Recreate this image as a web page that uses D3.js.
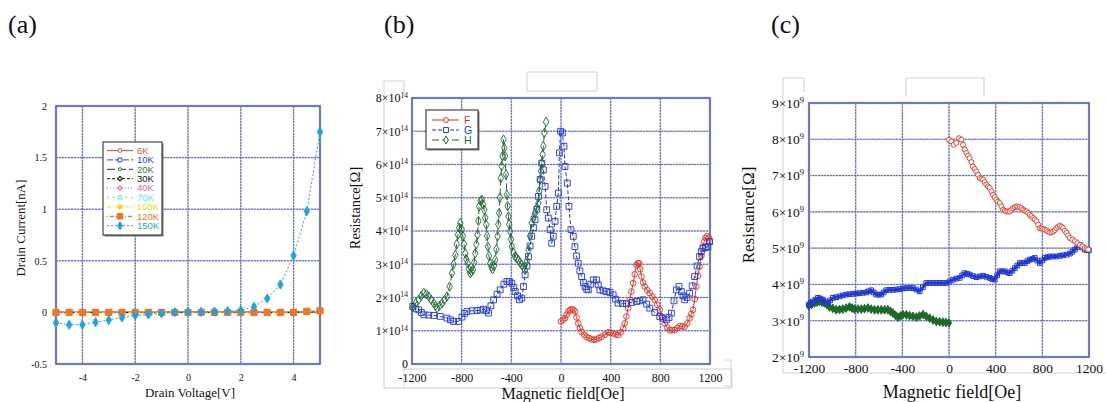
<!DOCTYPE html>
<html>
<head>
<meta charset="utf-8">
<script src="https://cdn.jsdelivr.net/npm/d3@7"></script>
<style>
  body { margin: 0; background: #fff; }
  svg { display: block; }
  text { font-family: "Liberation Serif", "Times New Roman", serif; fill: #111; }
  .leg text { font-family: "Liberation Sans", Arial, sans-serif; }
</style>
</head>
<body>
<svg id="fig" width="1106" height="402"></svg>
<script>
// ---------- (a) drain current vs drain voltage ----------
var voltage = [-5, -4.5, -4, -3.5, -3, -2.5, -2, -1.5, -1, -0.5, 0, 0.5, 1, 1.5, 2, 2.5, 3, 3.5, 4, 4.5, 5];
var tempLabels = ["6K", "10K", "20K", "30K", "40K", "70K", "100K", "120K", "150K"];
var cur6K   = [0, 0, 0, 0, 0, 0, 0, 0, 0, 0, 0, 0, 0, 0, 0, 0, 0, 0, 0, 0.005, 0.01];
var cur10K  = [0, 0, 0, 0, 0, 0, 0, 0, 0, 0, 0, 0, 0, 0, 0, 0, 0, 0, 0, 0.005, 0.01];
var cur20K  = [0, 0, 0, 0, 0, 0, 0, 0, 0, 0, 0, 0, 0, 0, 0, 0, 0, 0, 0, 0.005, 0.01];
var cur30K  = [0, 0, 0, 0, 0, 0, 0, 0, 0, 0, 0, 0, 0, 0, 0, 0, 0, 0, 0, 0.005, 0.01];
var cur40K  = [0, 0, 0, 0, 0, 0, 0, 0, 0, 0, 0, 0, 0, 0, 0, 0, 0, 0, 0, 0.005, 0.01];
var cur70K  = [0, 0, 0, 0, 0, 0, 0, 0, 0, 0, 0, 0, 0, 0, 0, 0, 0, 0, 0, 0.005, 0.01];
var cur100K = [0, 0, 0, 0, 0, 0, 0, 0, 0, 0, 0, 0, 0, 0, 0, 0, 0, 0, 0, 0.008, 0.012];
var cur120K = [0, 0, 0, 0, 0, 0, 0, 0, 0, 0, 0, 0, 0, 0, 0, 0, 0, 0, 0, 0.01, 0.015];
var cur150K = [-0.1, -0.12, -0.12, -0.095, -0.075, -0.05, -0.03, -0.02, -0.01, 0.002, 0.004, 0.005, 0.008, 0.012, 0.02, 0.055, 0.135, 0.27, 0.55, 0.98, 1.75];
var aXTicks = [-4, -2, 0, 2, 4];
var aYTicks = [-0.5, 0, 0.5, 1, 1.5, 2];

// ---------- (b) resistance (x10^14 ohm) vs magnetic field ----------
var bFieldF = [0, 16, 32, 45, 59, 72, 86, 99, 112, 125, 139, 152, 166, 186, 206, 226, 246, 266, 286, 306, 327, 353, 380, 400, 420, 440, 460, 480, 501, 514, 527, 540, 554, 567, 581, 594, 608, 619, 629, 638, 648, 661, 675, 695, 715, 735, 755, 775, 795, 815, 835, 855, 875, 895, 916, 936, 956, 976, 996, 1016, 1036, 1050, 1063, 1077, 1090, 1103, 1116, 1130, 1143, 1154, 1164, 1175, 1190, 1197];
var bResF   = [1.28, 1.33, 1.38, 1.48, 1.58, 1.62, 1.65, 1.63, 1.58, 1.40, 1.22, 1.08, 0.97, 0.88, 0.82, 0.78, 0.74, 0.73, 0.74, 0.78, 0.82, 0.88, 0.95, 0.94, 0.92, 0.89, 0.87, 0.95, 1.07, 1.22, 1.43, 1.68, 1.93, 2.18, 2.43, 2.70, 2.98, 3.03, 3.03, 2.85, 2.63, 2.45, 2.33, 2.22, 2.13, 2.03, 1.93, 1.78, 1.63, 1.42, 1.22, 1.10, 1.02, 1.02, 1.02, 1.08, 1.14, 1.13, 1.12, 1.22, 1.38, 1.50, 1.63, 1.95, 2.33, 2.65, 2.93, 3.25, 3.53, 3.68, 3.79, 3.84, 3.80, 3.68];
var bFieldG = [-1194, -1170, -1146, -1125, -1105, -1065, -1025, -972, -918, -890, -865, -825, -798, -778, -758, -717, -677, -650, -624, -600, -584, -565, -543, -515, -490, -460, -436, -415, -396, -380, -369, -350, -335, -316, -302, -289, -275, -262, -249, -236, -222, -209, -195, -182, -168, -155, -142, -128, -115, -102, -88, -75, -62, -48, -35, -21, -13, -3, 11, 24, 32, 51, 64, 80, 99, 112, 125, 139, 152, 166, 180, 193, 207, 220, 240, 260, 286, 300, 313, 340, 367, 395, 420, 440, 460, 495, 527, 570, 608, 635, 661, 690, 715, 755, 795, 820, 849, 870, 889, 910, 929, 950, 969, 983, 996, 1015, 1036, 1056, 1076, 1096, 1116, 1130, 1143, 1163, 1183, 1197];
var bResG   = [1.73, 1.66, 1.63, 1.55, 1.48, 1.47, 1.46, 1.43, 1.38, 1.33, 1.28, 1.28, 1.41, 1.52, 1.58, 1.60, 1.61, 1.62, 1.65, 1.60, 1.53, 1.75, 1.93, 2.10, 2.23, 2.40, 2.48, 2.48, 2.43, 2.30, 2.18, 2.05, 1.93, 1.98, 2.33, 2.68, 2.95, 3.23, 3.55, 3.84, 4.10, 4.34, 4.65, 5.04, 5.55, 6.04, 5.84, 5.34, 4.64, 4.39, 4.04, 3.63, 3.84, 4.29, 4.74, 5.14, 6.35, 7.00, 6.95, 6.55, 5.94, 5.44, 4.74, 4.04, 3.84, 3.53, 3.25, 3.03, 2.80, 2.63, 2.45, 2.33, 2.25, 2.23, 2.40, 2.53, 2.53, 2.38, 2.23, 2.20, 2.18, 2.15, 2.08, 1.95, 1.83, 1.82, 1.81, 1.85, 1.88, 1.90, 1.93, 1.80, 1.68, 1.55, 1.43, 1.38, 1.33, 1.40, 1.53, 1.90, 2.23, 2.33, 2.18, 2.05, 1.93, 2.00, 2.13, 2.35, 2.63, 2.95, 3.23, 3.38, 3.48, 3.50, 3.53, 3.68];
var bFieldH = [-1194, -1170, -1146, -1125, -1105, -1085, -1065, -1045, -1025, -1010, -998, -978, -958, -938, -918, -897, -878, -865, -851, -840, -830, -820, -811, -800, -790, -781, -771, -762, -752, -741, -731, -720, -709, -700, -691, -682, -672, -665, -659, -648, -637, -628, -618, -610, -602, -595, -589, -580, -570, -560, -551, -540, -530, -520, -511, -505, -498, -492, -485, -478, -471, -463, -456, -450, -443, -436, -430, -423, -417, -410, -403, -396, -382, -369, -356, -343, -330, -316, -302, -289, -275, -262, -249, -236, -222, -209, -195, -182, -175, -169, -162, -155, -148, -142, -134, -120];
var bResH   = [1.71, 1.83, 1.93, 2.05, 2.13, 2.10, 2.03, 1.93, 1.83, 1.75, 1.68, 1.75, 1.83, 1.93, 2.03, 2.33, 2.73, 3.00, 3.28, 3.60, 3.89, 4.10, 4.24, 4.05, 3.84, 3.60, 3.33, 3.15, 3.03, 2.85, 2.73, 2.78, 2.83, 3.05, 3.33, 3.60, 3.89, 4.30, 4.74, 4.90, 4.94, 4.80, 4.64, 4.40, 4.19, 3.85, 3.53, 3.25, 3.03, 2.92, 2.85, 2.95, 3.13, 3.45, 3.84, 4.20, 4.54, 5.00, 5.59, 5.95, 6.25, 6.75, 6.50, 6.25, 5.70, 5.09, 4.75, 4.44, 4.20, 3.99, 3.75, 3.53, 3.35, 3.23, 3.18, 3.13, 3.05, 2.98, 2.90, 2.83, 3.10, 3.43, 3.85, 4.24, 4.40, 4.54, 4.70, 4.84, 5.20, 5.54, 5.80, 6.04, 6.30, 6.55, 6.95, 7.28];
var bSeries = ["F", "G", "H"];

// ---------- (c) resistance (x10^9 ohm) vs magnetic field ----------
var cFieldF = [0, 20, 40, 63, 86, 106, 120, 135, 149, 163, 177, 192, 206, 220, 235, 249, 263, 278, 292, 306, 320, 335, 349, 364, 378, 392, 406, 420, 435, 449, 463, 478, 492, 507, 521, 535, 549, 564, 578, 592, 607, 621, 635, 650, 664, 678, 692, 707, 721, 735, 750, 764, 778, 793, 807, 821, 835, 850, 864, 878, 893, 907, 921, 935, 950, 964, 978, 993, 1007, 1021, 1036, 1057, 1079, 1100, 1122, 1143, 1164, 1180, 1193];
var cResF   = [7.99, 7.94, 7.85, 7.90, 8.03, 7.99, 7.85, 7.72, 7.62, 7.55, 7.48, 7.37, 7.25, 7.18, 7.11, 7.02, 6.93, 6.91, 6.89, 6.82, 6.75, 6.70, 6.66, 6.57, 6.47, 6.40, 6.33, 6.28, 6.24, 6.15, 6.06, 6.03, 6.01, 6.01, 6.01, 6.06, 6.10, 6.13, 6.15, 6.14, 6.13, 6.10, 6.06, 6.03, 6.01, 5.97, 5.92, 5.88, 5.83, 5.79, 5.74, 5.65, 5.55, 5.54, 5.53, 5.51, 5.49, 5.46, 5.43, 5.44, 5.46, 5.50, 5.55, 5.59, 5.62, 5.59, 5.55, 5.48, 5.42, 5.35, 5.28, 5.24, 5.19, 5.14, 5.09, 5.05, 5.00, 4.98, 4.96];
var cFieldG = [-1202, -1185, -1167, -1145, -1124, -1102, -1081, -1060, -1039, -1018, -996, -967, -938, -910, -881, -853, -824, -796, -767, -738, -710, -688, -667, -645, -624, -602, -581, -560, -538, -510, -481, -452, -423, -395, -366, -338, -309, -280, -252, -224, -195, -166, -137, -109, -80, -52, -23, 6, 34, 63, 92, 113, 134, 156, 177, 206, 235, 263, 292, 320, 349, 370, 392, 413, 435, 456, 478, 500, 521, 543, 564, 585, 607, 628, 650, 671, 692, 714, 735, 757, 778, 800, 821, 843, 864, 892, 921, 950, 978, 1007, 1036, 1057, 1079, 1100, 1122, 1143, 1164, 1182, 1199];
var cResG   = [3.44, 3.49, 3.53, 3.58, 3.63, 3.61, 3.58, 3.53, 3.49, 3.56, 3.63, 3.65, 3.67, 3.70, 3.72, 3.73, 3.74, 3.75, 3.76, 3.77, 3.78, 3.81, 3.84, 3.78, 3.72, 3.72, 3.72, 3.78, 3.84, 3.85, 3.85, 3.86, 3.87, 3.89, 3.90, 3.90, 3.90, 3.86, 3.81, 3.92, 4.04, 4.04, 4.04, 4.04, 4.04, 4.04, 4.04, 4.08, 4.13, 4.16, 4.18, 4.25, 4.31, 4.29, 4.27, 4.23, 4.20, 4.22, 4.24, 4.21, 4.18, 4.15, 4.13, 4.25, 4.36, 4.36, 4.36, 4.33, 4.31, 4.38, 4.45, 4.52, 4.59, 4.59, 4.59, 4.64, 4.68, 4.70, 4.73, 4.66, 4.59, 4.66, 4.73, 4.75, 4.77, 4.77, 4.77, 4.79, 4.80, 4.82, 4.85, 4.90, 4.96, 5.03, 5.09, 5.02, 4.96, 4.95, 4.94];
var cFieldH = [-1202, -1177, -1153, -1131, -1110, -1088, -1067, -1045, -1024, -996, -967, -938, -910, -881, -853, -831, -810, -781, -752, -724, -695, -667, -638, -610, -581, -552, -524, -502, -481, -459, -438, -416, -395, -366, -338, -309, -280, -252, -223, -195, -166, -137, -109, -80, -52, -26, 0];
var cResH   = [3.41, 3.45, 3.49, 3.51, 3.53, 3.51, 3.49, 3.44, 3.38, 3.34, 3.30, 3.31, 3.32, 3.35, 3.38, 3.35, 3.32, 3.32, 3.32, 3.33, 3.35, 3.32, 3.30, 3.30, 3.30, 3.30, 3.30, 3.26, 3.21, 3.15, 3.10, 3.13, 3.17, 3.16, 3.14, 3.12, 3.10, 3.13, 3.17, 3.12, 3.07, 3.02, 2.98, 2.97, 2.96, 2.95, 2.94];
var fieldTicks = [-1200, -800, -400, 0, 400, 800, 1200];
var bYTicks = [0, 1, 2, 3, 4, 5, 6, 7, 8];
var cYTicks = [2, 3, 4, 5, 6, 7, 8, 9];

var svg = d3.select("#fig");

function zip(xs, ys) {
    return xs.map(function (v, i) { return [v, ys[i]]; });
}

// gridlines + frame of a plot box
function drawFrame(x, y, xg, yg) {
    var g = svg.append("g");
    var x0 = x.range()[0], x1 = x.range()[1], y0 = y.range()[0], y1 = y.range()[1];
    [["#c9c9d6", 1.6, null], ["#3d52cf", 0.8, "2,1"]].forEach(function (st) {
        g.selectAll(null).data(xg).enter().append("line")
            .attr("x1", d => x(d)).attr("x2", d => x(d))
            .attr("y1", y1).attr("y2", y0)
            .attr("stroke", st[0]).attr("stroke-width", st[1])
            .attr("stroke-dasharray", st[2]);
        g.selectAll(null).data(yg).enter().append("line")
            .attr("y1", d => y(d)).attr("y2", d => y(d))
            .attr("x1", x0).attr("x2", x1)
            .attr("stroke", st[0]).attr("stroke-width", st[1])
            .attr("stroke-dasharray", st[2]);
    });
    g.append("rect")
        .attr("x", x0).attr("y", y1).attr("width", x1 - x0).attr("height", y0 - y1)
        .attr("fill", "none").attr("stroke", "#b8b8c8").attr("stroke-width", 2.4);
    g.append("rect")
        .attr("x", x0).attr("y", y1).attr("width", x1 - x0).attr("height", y0 - y1)
        .attr("fill", "none").attr("stroke", "#3a4fc6").attr("stroke-width", 1.2);
}

// tick labels via d3 axes; optional "m x 10^e" format
function drawLabels(x, y, xt, yt, fs, xoff, yoff, expo) {
    var gx = svg.append("g")
        .attr("transform", "translate(0," + (y.range()[0] + xoff) + ")")
        .call(d3.axisBottom(x).tickValues(xt).tickSize(0).tickPadding(0)
            .tickFormat(function (d) { return String(d); }));
    var gy = svg.append("g")
        .attr("transform", "translate(" + (x.range()[0] - yoff) + ",0)")
        .call(d3.axisLeft(y).tickValues(yt).tickSize(0).tickPadding(0)
            .tickFormat(function (d) { return expo && d !== 0 ? "" : String(d); }));
    [gx, gy].forEach(function (g) {
        g.attr("font-family", null);
        g.select(".domain").remove();
        g.selectAll("text").attr("font-size", fs).attr("fill", "#111");
    });
    gx.selectAll("text").attr("dy", "0.35em");
    if (expo) {
        gy.selectAll("text").filter(d => d !== 0).each(function (d) {
            var t = d3.select(this);
            t.append("tspan").text(d + "\u00d710");
            t.append("tspan").attr("font-size", fs * 0.62).attr("dy", -fs * 0.38).text(expo);
        });
    }
}

function axisTitles(xt, xx, xy, yt, yx, yy, fs) {
    svg.append("text").attr("x", xx).attr("y", xy).attr("text-anchor", "middle")
        .attr("font-size", fs[0]).text(xt);
    svg.append("text").attr("transform", "translate(" + yx + "," + yy + ") rotate(-90)")
        .attr("text-anchor", "middle").attr("font-size", fs[1]).text(yt);
}

function marks(g, pts, x, y, st) {
    g.append("path").datum(pts)
        .attr("fill", "none").attr("stroke", st.color).attr("stroke-width", st.lw || 1)
        .attr("stroke-dasharray", st.dash || null)
        .attr("d", d3.line().x(d => x(d[0])).y(d => y(d[1])));
    g.selectAll(null).data(pts).enter().append("path")
        .attr("transform", d => "translate(" + x(d[0]) + "," + y(d[1]) + ")")
        .attr("d", d3.symbol().type(st.sym).size(st.size))
        .attr("fill", st.fill ? st.color : (st.bg || "none"))
        .attr("stroke", st.color).attr("stroke-width", st.sw || 1);
}

function legendBox(x0, y0, w, h) {
    var g = svg.append("g").attr("class", "leg");
    g.append("rect").attr("x", x0 + 1.5).attr("y", y0 + 1.5).attr("width", w).attr("height", h)
        .attr("fill", "#777");
    g.append("rect").attr("x", x0).attr("y", y0).attr("width", w).attr("height", h)
        .attr("fill", "#fff").attr("stroke", "#444").attr("stroke-width", 1.2);
    return g;
}

// light grey paste boxes around panels (b) and (c)
function greyLines(segs) {
    svg.append("g").selectAll("line").data(segs).enter().append("line")
        .attr("x1", d => d[0]).attr("y1", d => d[1]).attr("x2", d => d[2]).attr("y2", d => d[3])
        .attr("stroke", "#cfcfcf").attr("stroke-width", 1);
}

// ================= panel (a) =================
var xa = d3.scaleLinear().domain([-5, 5]).range([56, 320]);
var ya = d3.scaleLinear().domain([-0.5, 2]).range([364, 106]);
drawFrame(xa, ya, aXTicks, [0, 0.5, 1, 1.5]);
drawLabels(xa, ya, aXTicks, aYTicks, 10, 13, 9, null);
axisTitles("Drain Voltage[V]", 190, 397, "Drain Current[nA]", 25, 228, [13, 13]);

var aCurves = [cur6K, cur10K, cur20K, cur30K, cur40K, cur70K, cur100K, cur120K, cur150K];
var aStyles = [
    { color: "#ea5a4e", sym: d3.symbolCircle, size: 14, dash: null, lw: 1.2 },
    { color: "#2446de", sym: d3.symbolSquare, size: 18, dash: "6,2", lw: 1 },
    { color: "#2e7d3a", sym: d3.symbolCircle, size: 10, dash: "8,3", lw: 1.2 },
    { color: "#111111", sym: d3.symbolCross, size: 14, dash: "3,2", lw: 1 },
    { color: "#ff5fae", sym: d3.symbolCross, size: 14, dash: "1,2", lw: 1 },
    { color: "#5ee3f2", sym: d3.symbolTriangle, size: 14, dash: "2,4", lw: 1 },
    { color: "#f4dc12", sym: d3.symbolCircle, size: 20, dash: "4,2,1,2", lw: 1, fill: true },
    { color: "#ef7424", sym: d3.symbolSquare, size: 38, dash: "1,2,4,2", lw: 1.2, fill: true },
    { color: "#1ea4e2", sym: d3.symbolDiamond, size: 24, dash: "2,2", lw: 1, fill: true }
];
var ga = svg.append("g");
aCurves.forEach(function (c, i) {
    marks(ga, zip(voltage, c), xa, ya, aStyles[i]);
});

var la = legendBox(103, 142, 59, 93);
tempLabels.forEach(function (lab, i) {
    var st = aStyles[i], yy = 150.5 + i * 9.4;
    la.append("line").attr("x1", 107).attr("x2", 133).attr("y1", yy).attr("y2", yy)
        .attr("stroke", st.color).attr("stroke-width", st.lw).attr("stroke-dasharray", st.dash);
    la.append("path").attr("transform", "translate(120," + yy + ")")
        .attr("d", d3.symbol().type(st.sym).size(st.size * 0.8))
        .attr("fill", st.fill ? st.color : "#fff").attr("stroke", st.color);
    la.append("text").attr("x", 137).attr("y", yy).attr("dy", "0.35em")
        .attr("font-size", 9.5).style("fill", st.color).text(lab);
});

// ================= panel (b) =================
greyLines([[384, 81, 404, 81], [384, 81, 384, 388], [404, 81, 404, 96], [404, 360, 404, 388],
    [384, 388, 732, 388], [404, 369, 732, 369], [732, 369, 732, 388],
    [527, 72, 597, 72], [527, 91, 597, 91], [527, 72, 527, 91], [597, 72, 597, 91]]);
var xb = d3.scaleLinear().domain([-1200, 1200]).range([412, 710]);
var yb = d3.scaleLinear().domain([0, 8]).range([364, 98]);
drawFrame(xb, yb, [-800, -400, 0, 400, 800], [1, 2, 3, 4, 5, 6, 7]);
drawLabels(xb, yb, fieldTicks, bYTicks, 12, 14, 4, "14");
axisTitles("Magnetic field[Oe]", 563, 399, "Resistance[\u03a9]", 360, 208, [16, 14.5]);

var bStyles = [
    { color: "#e0321f", sym: d3.symbolCircle, size: 26, lw: 1, sw: 0.9 },
    { color: "#1f38d2", sym: d3.symbolSquare, size: 34, lw: 1, dash: "4,2", sw: 0.9 },
    { color: "#1d6a2c", sym: d3.symbolDiamond, size: 26, lw: 1, dash: "7,3", sw: 0.9 }
];
var gb = svg.append("g");
marks(gb, zip(bFieldF, bResF), xb, yb, bStyles[0]);
marks(gb, zip(bFieldG, bResG), xb, yb, bStyles[1]);
marks(gb, zip(bFieldH, bResH), xb, yb, bStyles[2]);

var lb = legendBox(426, 110, 52, 39);
bSeries.forEach(function (lab, i) {
    var st = bStyles[i], yy = 120 + i * 10;
    lb.append("line").attr("x1", 432).attr("x2", 459).attr("y1", yy).attr("y2", yy)
        .attr("stroke", st.color).attr("stroke-dasharray", st.dash || null);
    lb.append("path").attr("transform", "translate(446," + yy + ")")
        .attr("d", d3.symbol().type(st.sym).size(st.size * 0.7))
        .attr("fill", "#fff").attr("stroke", st.color);
    lb.append("text").attr("x", 464).attr("y", yy).attr("dy", "0.35em")
        .attr("font-size", 10.5).style("fill", st.color).text(lab);
});

// ================= panel (c) =================
greyLines([[783, 78, 804, 78], [783, 78, 783, 373], [804, 78, 804, 92], [783, 373, 1106, 373],
    [906, 78, 984, 78], [906, 78, 906, 96], [984, 78, 984, 96],
    [724, 360, 731, 360], [731, 360, 731, 386], [724, 386, 731, 386]]);
var xc = d3.scaleLinear().domain([-1200, 1200]).range([809, 1089]);
var yc = d3.scaleLinear().domain([2, 9]).range([357, 103]);
drawFrame(xc, yc, [-800, -400, 0, 400, 800], [3, 4, 5, 6, 7, 8]);
drawLabels(xc, yc, fieldTicks, cYTicks, 13.5, 11, 5, "9");
axisTitles("Magnetic field[Oe]", 952, 398, "Resistance[\u03a9]", 754, 215, [18, 17]);

var gc = svg.append("g");
marks(gc, zip(cFieldH, cResH), xc, yc, { color: "#1b6a28", sym: d3.symbolDiamond, size: 22, lw: 3, sw: 1, fill: true });
marks(gc, zip(cFieldG, cResG), xc, yc, { color: "#2238d6", sym: d3.symbolSquare, size: 22, lw: 3, sw: 1 });
marks(gc, zip(cFieldF, cResF), xc, yc, { color: "#e0341f", sym: d3.symbolCircle, size: 20, lw: 1, sw: 0.9, bg: "#fff" });

// panel letters
[["(a)", 8], ["(b)", 384], ["(c)", 771]].forEach(function (p) {
    svg.append("text").attr("x", p[1]).attr("y", 33).attr("font-size", 26).text(p[0]);
});
</script>
</body>
</html>
